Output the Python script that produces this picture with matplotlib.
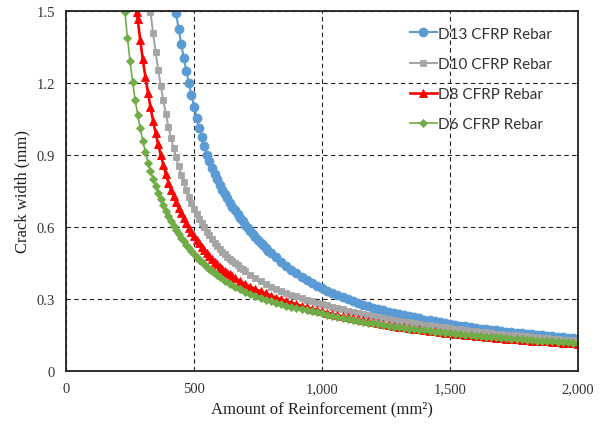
import matplotlib
matplotlib.use("agg")
import matplotlib.pyplot as plt
from matplotlib.ticker import FuncFormatter

# amount of reinforcement (mm2): every 10 on the steep part, every 20 after
a_d13 = list(range(430, 801, 10)) + list(range(820, 2001, 20))
a_d10 = list(range(330, 701, 10)) + list(range(720, 2001, 20))
a_d8 = [276] + list(range(280, 661, 10)) + list(range(680, 2001, 20))
a_d6 = list(range(230, 601, 10)) + list(range(620, 2001, 20))

# crack width (mm)
w_d13 = [1.490, 1.424, 1.362, 1.304, 1.250, 1.199, 1.149, 1.101, 1.056, 1.014,
         0.974, 0.936, 0.900, 0.873, 0.846, 0.821, 0.798, 0.775, 0.756, 0.737,
         0.719, 0.702, 0.685, 0.669, 0.653, 0.637, 0.623, 0.608, 0.595, 0.582,
         0.569, 0.557, 0.545, 0.534, 0.523, 0.512, 0.502, 0.492,
         0.473, 0.455, 0.438, 0.422, 0.407, 0.393, 0.380, 0.367, 0.355, 0.344,
         0.334, 0.325, 0.316, 0.308, 0.300, 0.292, 0.284, 0.277, 0.271, 0.264,
         0.258, 0.253, 0.247, 0.242, 0.237, 0.232, 0.228, 0.223, 0.219, 0.214,
         0.211, 0.207, 0.203, 0.199, 0.196, 0.193, 0.189, 0.186, 0.183, 0.180,
         0.177, 0.175, 0.172, 0.169, 0.167, 0.164, 0.162, 0.159, 0.157, 0.155,
         0.153, 0.150, 0.148, 0.146, 0.144, 0.142, 0.140, 0.138, 0.137, 0.135]
w_d10 = [1.495, 1.408, 1.329, 1.256, 1.189, 1.128, 1.070, 1.018, 0.972, 0.930,
         0.890, 0.853, 0.818, 0.786, 0.755, 0.726, 0.699, 0.674, 0.653, 0.634,
         0.615, 0.598, 0.581, 0.565, 0.550, 0.535, 0.521, 0.508, 0.497, 0.487,
         0.477, 0.467, 0.458, 0.449, 0.440, 0.431, 0.423, 0.416,
         0.401, 0.387, 0.373, 0.361, 0.349, 0.341, 0.333, 0.325, 0.318, 0.311,
         0.304, 0.297, 0.291, 0.285, 0.279, 0.273, 0.268, 0.262, 0.257, 0.252,
         0.247, 0.242, 0.237, 0.233, 0.229, 0.225, 0.221, 0.217, 0.213, 0.209,
         0.206, 0.203, 0.199, 0.196, 0.193, 0.190, 0.187, 0.184, 0.182, 0.179,
         0.176, 0.173, 0.171, 0.168, 0.166, 0.163, 0.161, 0.158, 0.156, 0.154,
         0.152, 0.150, 0.148, 0.146, 0.144, 0.142, 0.140, 0.138, 0.136, 0.135,
         0.133, 0.131, 0.130, 0.128, 0.127]
w_d8 = [1.497,
        1.465, 1.378, 1.298, 1.226, 1.160, 1.099, 1.043, 0.991, 0.944, 0.900,
        0.859, 0.820, 0.785, 0.756, 0.729, 0.704, 0.680, 0.658, 0.636, 0.616,
        0.597, 0.579, 0.562, 0.546, 0.532, 0.518, 0.504, 0.492, 0.479, 0.468,
        0.456, 0.446, 0.435, 0.427, 0.418, 0.410, 0.403, 0.395, 0.388,
        0.374, 0.362, 0.351, 0.341, 0.332, 0.323, 0.314, 0.306, 0.299, 0.291,
        0.284, 0.278, 0.271, 0.265, 0.260, 0.254, 0.249, 0.243, 0.238, 0.233,
        0.228, 0.223, 0.219, 0.215, 0.211, 0.207, 0.203, 0.199, 0.195, 0.192,
        0.189, 0.185, 0.182, 0.179, 0.176, 0.173, 0.171, 0.168, 0.165, 0.163,
        0.160, 0.158, 0.156, 0.153, 0.151, 0.149, 0.147, 0.145, 0.143, 0.141,
        0.139, 0.137, 0.135, 0.134, 0.132, 0.130, 0.129, 0.127, 0.126, 0.124,
        0.123, 0.121, 0.120, 0.118, 0.117, 0.116, 0.114]
w_d6 = [1.495, 1.388, 1.292, 1.206, 1.129, 1.067, 1.011, 0.959, 0.912, 0.868,
        0.833, 0.801, 0.771, 0.743, 0.717, 0.692, 0.668, 0.646, 0.626, 0.606,
        0.588, 0.571, 0.555, 0.540, 0.525, 0.512, 0.498, 0.486, 0.475, 0.464,
        0.454, 0.444, 0.434, 0.425, 0.416, 0.408, 0.400, 0.392,
        0.377, 0.363, 0.351, 0.341, 0.331, 0.322, 0.313, 0.305, 0.297, 0.290,
        0.284, 0.278, 0.272, 0.267, 0.262, 0.257, 0.253, 0.248, 0.244, 0.240,
        0.235, 0.230, 0.226, 0.221, 0.217, 0.213, 0.209, 0.205, 0.202, 0.198,
        0.195, 0.192, 0.188, 0.185, 0.182, 0.180, 0.177, 0.174, 0.171, 0.169,
        0.166, 0.164, 0.162, 0.159, 0.157, 0.155, 0.153, 0.151, 0.149, 0.147,
        0.145, 0.143, 0.141, 0.140, 0.138, 0.136, 0.135, 0.133, 0.132, 0.130,
        0.129, 0.127, 0.126, 0.124, 0.123, 0.122, 0.120, 0.119, 0.118, 0.117]

fig = plt.figure(figsize=(6.04, 4.31), dpi=100)
ax = fig.add_axes([0.1093, 0.1369, 0.8477, 0.8353])

ax.plot(a_d13, w_d13, marker='o', ms=6.2, mew=0.8, color='#5B9BD5', lw=1.5, label='D13 CFRP Rebar')
ax.plot(a_d10, w_d10, marker='s', ms=4.6, mew=0.6, color='#A5A5A5', lw=1.5, label='D10 CFRP Rebar')
ax.plot(a_d8, w_d8, marker='^', ms=5.6, mew=0.6, color='#FF0000', lw=1.9, label='D8 CFRP Rebar')
ax.plot(a_d6, w_d6, marker='D', ms=3.9, mew=0.6, color='#70AD47', lw=1.2, label='D6 CFRP Rebar')

ax.set_xlim(0, 2000)
ax.set_ylim(0, 1.5)
ax.set_xticks([0, 500, 1000, 1500, 2000])
ax.set_yticks([0, 0.3, 0.6, 0.9, 1.2, 1.5])
ax.xaxis.set_major_formatter(FuncFormatter(lambda v, p: f"{int(v):,}"))
ax.yaxis.set_major_formatter(FuncFormatter(lambda v, p: "0" if v == 0 else f"{v:.1f}"))
ax.tick_params(length=0, labelsize=10.5, pad=8)
for lab in ax.get_xticklabels() + ax.get_yticklabels():
    lab.set_family('Liberation Serif')
    lab.set_color('#333333')

ax.grid(True, color='#222222', linestyle=(0, (4, 3)), linewidth=0.8)
for s in ax.spines.values():
    s.set_linewidth(1.3)
    s.set_color('#222222')

ax.set_xlabel('Amount of Reinforcement (mm²)', family='Liberation Serif', fontsize=12, color='#222222')
ax.set_ylabel('Crack width (mm)', family='Liberation Serif', fontsize=12, color='#222222')

leg = ax.legend(loc='upper left', bbox_to_anchor=(0.672, 0.956), frameon=False,
                prop={'family': 'Lato', 'size': 11}, labelspacing=1.05,
                handlelength=1.75, handletextpad=0.05, borderpad=0, borderaxespad=0)
for t in leg.get_texts():
    t.set_color('#333333')

fig.savefig('out.png', dpi=100)
